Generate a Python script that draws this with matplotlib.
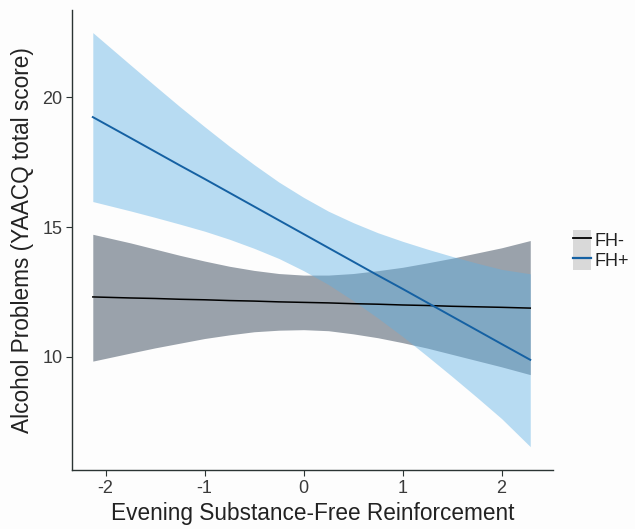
import numpy as np
import matplotlib
matplotlib.use("Agg")
import matplotlib.pyplot as plt
from matplotlib.lines import Line2D
from matplotlib.patches import Patch


# -----------------------------
# Data
# -----------------------------

x_vals = [-2.13, -1.75, -1.5, -1.25, -1.0, -0.75, -0.5, -0.25, 0.0,
          0.25, 0.5, 0.75, 1.0, 1.25, 1.5, 1.75, 2.0, 2.29]

fhneg_fit = [12.31, 12.27, 12.25, 12.22, 12.20, 12.17, 12.15, 12.12, 12.10,
             12.08, 12.05, 12.03, 12.00, 11.98, 11.95, 11.93, 11.91, 11.88]
fhneg_low = [9.84, 10.15, 10.35, 10.53, 10.71, 10.85, 10.97, 11.03, 11.05,
             11.01, 10.89, 10.74, 10.55, 10.34, 10.10, 9.86, 9.62, 9.32]
fhneg_high = [14.72, 14.39, 14.15, 13.91, 13.69, 13.49, 13.33, 13.21, 13.15,
              13.15, 13.21, 13.32, 13.45, 13.62, 13.80, 14.00, 14.20, 14.48]

fhpos_fit = [19.23, 18.43, 17.90, 17.37, 16.85, 16.32, 15.79, 15.26, 14.73,
             14.20, 13.67, 13.14, 12.62, 12.09, 11.56, 11.03, 10.50, 9.89]
fhpos_low = [15.98, 15.62, 15.37, 15.11, 14.84, 14.53, 14.18, 13.79, 13.32,
             12.79, 12.17, 11.50, 10.79, 10.03, 9.25, 8.45, 7.63, 6.55]
fhpos_high = [22.48, 21.24, 20.43, 19.63, 18.86, 18.11, 17.40, 16.73, 16.14,
              15.61, 15.17, 14.78, 14.45, 14.15, 13.87, 13.61, 13.37, 13.20]

x_ticks = [-2, -1, 0, 1, 2]
y_ticks = [10, 15, 20]


# -----------------------------
# Plot
# -----------------------------

plt.rcParams["font.family"] = ["Liberation Sans", "DejaVu Sans"]

BG = "#fdfdfd"
GREY_BAND = "#9aa2ab"
BLUE_BAND = "#5fb0e4"
BLUE_LINE = "#1561a3"
AXIS_COL = "#2b3433"
TEXT_COL = "#3a3a3a"

fig = plt.figure(figsize=(6.35, 5.29), dpi=100, facecolor=BG)
ax = fig.add_axes([0.1134, 0.1115, 0.7575, 0.8696], facecolor=BG)

ax.fill_between(x_vals, fhneg_low, fhneg_high, color=GREY_BAND, lw=0)
ax.fill_between(x_vals, fhpos_low, fhpos_high, color=BLUE_BAND, alpha=0.44, lw=0)

ax.plot(x_vals, fhneg_fit, color="black", lw=1.1)
ax.plot(x_vals, fhpos_fit, color=BLUE_LINE, lw=1.4)

ax.set_xlim(-2.34, 2.52)
ax.set_ylim(5.65, 23.35)
ax.set_xticks(x_ticks)
ax.set_xticklabels([str(t) for t in x_ticks])
ax.set_yticks(y_ticks)

for side in ["top", "right"]:
  ax.spines[side].set_visible(False)
for side in ["left", "bottom"]:
  ax.spines[side].set_color(AXIS_COL)
  ax.spines[side].set_linewidth(1.0)

ax.tick_params(axis="both", direction="out", length=4, width=0.8,
               color=AXIS_COL, labelsize=13, labelcolor=TEXT_COL, pad=3)

ax.set_xlabel("Evening Substance-Free Reinforcement", fontsize=16.3,
              color="#222222", labelpad=4)
ax.set_ylabel("Alcohol Problems (YAACQ total score)", fontsize=16.3,
              color="#222222", labelpad=6)

handles = [
  (Patch(facecolor="#d9d9d9", edgecolor="none"),
   Line2D([], [], color="black", lw=1.3)),
  (Patch(facecolor="#d9d9d9", edgecolor="none"),
   Line2D([], [], color=BLUE_LINE, lw=1.6)),
]
leg = fig.legend(handles, ["FH-", "FH+"], loc="center left",
                 bbox_to_anchor=(0.903, 0.527), frameon=False,
                 fontsize=13, handlelength=0.95, handleheight=1.3,
                 handletextpad=0.2, labelspacing=0.0, borderpad=0,
                 borderaxespad=0)
for t in leg.get_texts():
  t.set_color("#222222")


# -----------------------------
# Save
# -----------------------------

fig.savefig("out.png", dpi=100, facecolor=BG)
plt.close(fig)
